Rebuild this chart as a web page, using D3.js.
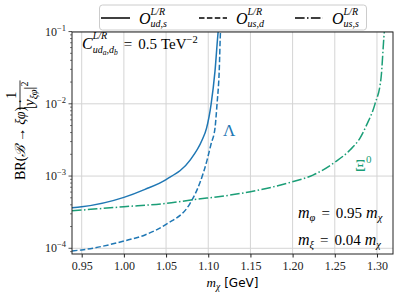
<!DOCTYPE html>
<html>
<head>
<meta charset="utf-8">
<script src="https://cdn.jsdelivr.net/npm/d3@7"></script>
<style>
    body { margin: 0; background: #fff; }
</style>
</head>
<body>
<svg id="chart" width="399" height="297"></svg>
<script>
// data (m_chi dalam GeV, BR / |y|^2)
var massLambdaS = [0.9385, 0.95, 1.00, 1.025, 1.05, 1.0785, 1.0927, 1.098, 1.1034, 1.108, 1.1117, 1.1125];
var brLambdaS = [3.65e-4, 3.76e-4, 5.07e-4, 6.55e-4, 8.95e-4, 1.66e-3, 3.15e-3, 4.6e-3, 9.9e-3, 2.83e-2, 9.8e-2, 0.12];

var massLambdaD = [0.9385, 0.95, 1.00, 1.025, 1.05, 1.0785, 1.09, 1.0986, 1.1034, 1.108, 1.1104, 1.113, 1.1145, 1.115];
var brLambdaD = [9.2e-5, 9.5e-5, 1.26e-4, 1.53e-4, 2.15e-4, 4.2e-4, 8e-4, 1.66e-3, 2.8e-3, 4.6e-3, 9.9e-3, 2.83e-2, 0.1, 0.12];

var massXi = [0.9385, 1.00, 1.05, 1.0795, 1.126, 1.15, 1.1993, 1.2241, 1.2502, 1.268, 1.2799, 1.2882, 1.2976, 1.3048, 1.3087, 1.3095];
var brXi = [3.3e-4, 3.76e-4, 4.18e-4, 4.66e-4, 5.45e-4, 6.07e-4, 8.3e-4, 1.03e-3, 1.56e-3, 2.29e-3, 3.36e-3, 5.24e-3, 9.9e-3, 2.26e-2, 0.098, 0.12];

var xTicks = [0.95, 1.00, 1.05, 1.10, 1.15, 1.20, 1.25, 1.30];
var yTicks = [1e-4, 1e-3, 1e-2, 1e-1];
var yTickExp = ["\u22124", "\u22123", "\u22122", "\u22121"];

var blue = "#1f77b4";
var green = "#1b9e77";
var serif = "'Liberation Serif', 'DejaVu Serif', serif";
var sans = "'DejaVu Sans', sans-serif";

// ukuran area plot
var margin = { top: 32, right: 6, bottom: 43, left: 72 };
var W = 399, H = 297;
var width = W - margin.left - margin.right;
var height = H - margin.top - margin.bottom;

var x = d3.scaleLinear().domain([0.9385, 1.319]).range([0, width]);
var y = d3.scaleLog().domain([Math.pow(10, -4.079), Math.pow(10, -1.006)]).range([height, 0]);

var svg = d3.select("#chart");
var g = svg.append("g").attr("transform", "translate(" + margin.left + "," + margin.top + ")");

// penulis teks matematika sederhana
function writer(parent, x0, y0, fill) {
    var w = { x: x0 };
    w.put = function (txt, opt) {
        opt = opt || {};
        var t = parent.append("text")
            .attr("x", w.x + (opt.dx || 0))
            .attr("y", y0 + (opt.sh || 0))
            .attr("font-size", opt.fs || 14)
            .attr("fill", fill || "#000")
            .style("font-family", opt.ff || serif)
            .text(txt);
        if (opt.it) t.style("font-style", "italic");
        w.x += (opt.dx || 0) + t.node().getComputedTextLength();
        return w;
    };
    w.stack = function (f1, f2) {
        var x0s = w.x;
        f1(w);
        var a = w.x;
        w.x = x0s;
        f2(w);
        w.x = Math.max(a, w.x);
        return w;
    };
    w.gap = function (d) { w.x += d; return w; };
    return w;
}

// grid
g.append("g").selectAll("line").data(xTicks).enter().append("line")
    .attr("x1", function (d) { return x(d); }).attr("x2", function (d) { return x(d); })
    .attr("y1", 0).attr("y2", height)
    .attr("stroke", "#d4d4d4").attr("stroke-width", 1);
g.append("g").selectAll("line").data(yTicks).enter().append("line")
    .attr("x1", 0).attr("x2", width)
    .attr("y1", function (d) { return y(d); }).attr("y2", function (d) { return y(d); })
    .attr("stroke", "#d4d4d4").attr("stroke-width", 1);

// clip
svg.append("defs").append("clipPath").attr("id", "clip")
    .append("rect").attr("width", width).attr("height", height);

var line = d3.line()
    .x(function (d) { return x(d[0]); })
    .y(function (d) { return y(d[1]); })
    .curve(d3.curveMonotoneX);

var curves = g.append("g").attr("clip-path", "url(#clip)");
curves.append("path").datum(d3.zip(massLambdaS, brLambdaS))
    .attr("d", line).attr("fill", "none").attr("stroke", blue).attr("stroke-width", 1.5);
curves.append("path").datum(d3.zip(massLambdaD, brLambdaD))
    .attr("d", line).attr("fill", "none").attr("stroke", blue).attr("stroke-width", 1.5)
    .attr("stroke-dasharray", "5.5,2.4");
curves.append("path").datum(d3.zip(massXi, brXi))
    .attr("d", line).attr("fill", "none").attr("stroke", green).attr("stroke-width", 1.5)
    .attr("stroke-dasharray", "9.6,2.4,1.5,2.4");

// sumbu x
var xAxis = g.append("g")
    .attr("transform", "translate(0," + height + ")")
    .call(d3.axisBottom(x).tickValues(xTicks).tickFormat(d3.format(".2f")).tickSize(3.5).tickPadding(4));
xAxis.select(".domain").remove();
xAxis.selectAll("text").attr("font-size", 12).style("font-family", serif).attr("fill", "#222");
xAxis.selectAll("line").attr("stroke", "#222");

// sumbu y (log) dengan minor tick
var minor = [];
[-5, -4, -3, -2].forEach(function (e) {
    for (var k = 2; k <= 9; k++) {
        var v = k * Math.pow(10, e);
        if (v >= y.domain()[0] && v <= y.domain()[1]) minor.push(v);
    }
});
g.append("g").selectAll("line").data(minor).enter().append("line")
    .attr("x1", -2).attr("x2", 0)
    .attr("y1", function (d) { return y(d); }).attr("y2", function (d) { return y(d); })
    .attr("stroke", "#222").attr("stroke-width", 0.6);
g.append("g").selectAll("line").data(yTicks).enter().append("line")
    .attr("x1", -3.5).attr("x2", 0)
    .attr("y1", function (d) { return y(d); }).attr("y2", function (d) { return y(d); })
    .attr("stroke", "#222").attr("stroke-width", 0.8);
var yl = g.append("g").selectAll("text").data(yTicks).enter().append("text")
    .attr("x", -6).attr("y", function (d) { return y(d) + 4; })
    .attr("text-anchor", "end").attr("font-size", 12).attr("fill", "#222")
    .style("font-family", serif);
yl.append("tspan").text("10");
yl.append("tspan").attr("dy", -5).attr("font-size", 8.5).text(function (d, i) { return yTickExp[i]; });

// bingkai
g.append("rect").attr("width", width).attr("height", height)
    .attr("fill", "none").attr("stroke", "#222").attr("stroke-width", 1);

// label sumbu x
var xl = svg.append("g");
writer(xl, 0, 287, "#000")
    .put("m", { it: true, fs: 13 })
    .put("\u03c7", { it: true, fs: 9.5, sh: 3 })
    .gap(4)
    .put("[GeV]", { fs: 12, ff: sans });
var bb = xl.node().getBBox();
xl.attr("transform", "translate(" + (margin.left + width / 2 - bb.width / 2) + ",0)");

// label sumbu y (diputar)
var ylab = svg.append("g").attr("transform", "translate(21,146) rotate(-90)");
writer(ylab, -34, 4, "#000")
    .put("BR(", { fs: 14 })
    .put("\u212c", { it: true, fs: 14 })
    .gap(3).put("\u2192", { fs: 14 }).gap(3)
    .put("\u03be\u03c6", { it: true, fs: 14 })
    .put(")", { fs: 14 })
    .gap(3).put("\u00b7", { fs: 14 });
var den = writer(ylab, 37, 13, "#000")
    .put("|", { fs: 15 })
    .put("y", { it: true, fs: 15 })
    .put("\u03be\u03c6", { it: true, fs: 10.5, sh: 3 })
    .put("|", { fs: 15 })
    .put("2", { fs: 10, sh: -6 });
var denEnd = den.x;
writer(ylab, (37 + denEnd) / 2 - 3.5, -5, "#000").put("1", { fs: 14 });
ylab.append("line").attr("x1", 36).attr("x2", denEnd + 1).attr("y1", -1).attr("y2", -1)
    .attr("stroke", "#000").attr("stroke-width", 0.8);

// legenda
var leg = svg.append("g");
leg.append("rect").attr("x", 99.5).attr("y", 5).attr("width", 267).attr("height", 25).attr("rx", 3)
    .attr("fill", "#fff").attr("fill-opacity", 0.8).attr("stroke", "#cccccc").attr("stroke-width", 1);
var legItems = [
    { x0: 101, x1: 130, lx: 139, dash: null, sub: "ud,s" },
    { x0: 199, x1: 227, lx: 236, dash: "5.5,2.4", sub: "us,d" },
    { x0: 295, x1: 323, lx: 332, dash: "9.6,2.4,1.5,2.4", sub: "us,s" }
];
legItems.forEach(function (d) {
    leg.append("line").attr("x1", d.x0).attr("x2", d.x1).attr("y1", 18).attr("y2", 18)
        .attr("stroke", "#000").attr("stroke-width", 1.5).attr("stroke-dasharray", d.dash);
    writer(leg, d.lx, 24, "#000")
        .put("O", { it: true, fs: 16 })
        .stack(
            function (w) { w.put("L/R", { it: true, fs: 10, sh: -9 }); },
            function (w) { w.put(d.sub, { it: true, fs: 10, sh: 3 }); }
        );
});

// anotasi kopling
writer(svg, 82, 49, "#000")
    .put("C", { it: true, fs: 16 })
    .stack(
        function (w) { w.put("L/R", { it: true, fs: 10, sh: -10 }); },
        function (w) {
            w.put("ud", { it: true, fs: 10, sh: 4 })
                .put("a", { it: true, fs: 7.5, sh: 6 })
                .put(",d", { it: true, fs: 10, sh: 4 })
                .put("b", { it: true, fs: 7.5, sh: 6 });
        }
    )
    .gap(6).put("=", { fs: 15 }).gap(6).put("0.5", { fs: 15 }).gap(4)
    .put("TeV", { fs: 15 })
    .put("\u22122", { fs: 10.5, sh: -6 });

// label kurva
svg.append("text").attr("x", 223).attr("y", 136).attr("font-size", 17).attr("fill", blue)
    .style("font-family", serif).text("\u039b");
writer(svg, 355, 171, green).put("\u039e", { fs: 17 }).put("0", { fs: 11, sh: -8 });

// parameter massa
[["\u03c6", "0.95", 218], ["\u03be", "0.04", 245]].forEach(function (r) {
    writer(svg, 298, r[2], "#000")
        .put("m", { it: true, fs: 16 })
        .put(r[0], { it: true, fs: 10.5, sh: 3 })
        .gap(6).put("=", { fs: 15 }).gap(6)
        .put(r[1], { fs: 15 }).gap(4)
        .put("m", { it: true, fs: 16 })
        .put("\u03c7", { it: true, fs: 10.5, sh: 3 });
});
</script>
</body>
</html>
